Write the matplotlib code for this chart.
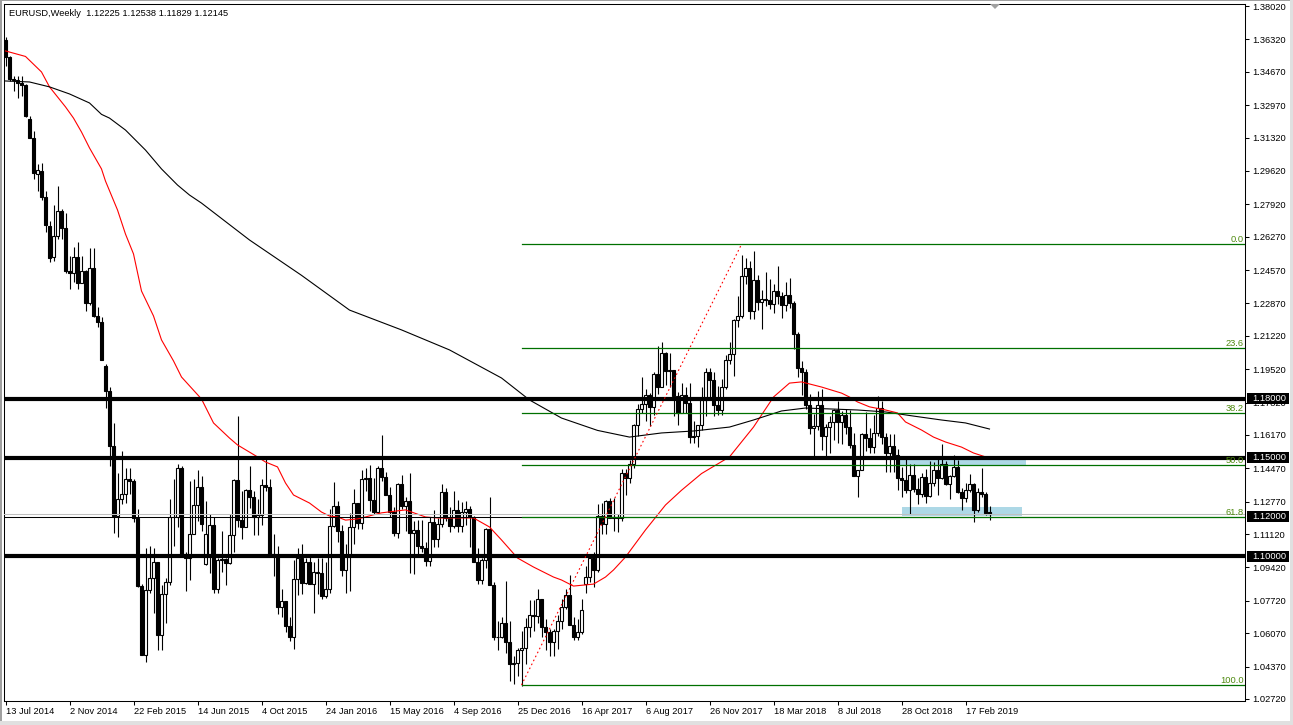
import numpy as np
import matplotlib
matplotlib.use("Agg")
import matplotlib.pyplot as plt
from matplotlib.patches import Rectangle, Polygon
from matplotlib.transforms import blended_transform_factory

plt.rcParams['font.family'] = ['Liberation Sans', 'DejaVu Sans']

# EURUSD weekly candles, bar 0 = week of 13 Jul 2014, last bar = week of 31 Mar 2019
opens = [
    # 2014
    1.3630, 1.3540, 1.3430, 1.3424, 1.3410, 1.3400, 1.3225, 1.3130, 1.2945, 1.2960, 1.2830, 1.2680, 1.2525,
    1.2630, 1.2760, 1.2670, 1.2450, 1.2440, 1.2525, 1.2390, 1.2450, 1.2290, 1.2465, 1.2225, 1.2190,
    # 2015
    1.1970, 1.1842, 1.1560, 1.1205, 1.1290, 1.1315, 1.1390, 1.1380, 1.1195, 1.0845, 1.0495, 1.0825, 1.0890,
    1.0970, 1.0600, 1.0805, 1.0870, 1.1200, 1.1200, 1.1450, 1.1010, 1.0990, 1.1110, 1.1260, 1.1350, 1.0960,
    1.1000, 1.1160, 1.0830, 1.0980, 1.0985, 1.0965, 1.1105, 1.1385, 1.1185, 1.1150, 1.1335, 1.1300, 1.1200,
    1.1210, 1.1360, 1.1350, 1.1010, 1.1005, 1.0740, 1.0770, 1.0645, 1.0590, 1.0885, 1.0990, 1.0865, 1.0970,
    # 2016
    1.0860, 1.0920, 1.0915, 1.0795, 1.0830, 1.1155, 1.1255, 1.1130, 1.0930, 1.1000, 1.1150, 1.1270, 1.1170,
    1.1390, 1.1400, 1.1285, 1.1225, 1.1450, 1.1405, 1.1310, 1.1225, 1.1115, 1.1365, 1.1255, 1.1280, 1.1115,
    1.1135, 1.1050, 1.1040, 1.0975, 1.1175, 1.1085, 1.1165, 1.1325, 1.1195, 1.1155, 1.1235, 1.1155, 1.1225,
    1.1240, 1.1200, 1.0970, 1.0880, 1.0980, 1.1140, 1.0850, 1.0590, 1.0590, 1.0660, 1.0560, 1.0450, 1.0455,
    # 2017
    1.0520, 1.0530, 1.0640, 1.0700, 1.0695, 1.0780, 1.0640, 1.0615, 1.0560, 1.0620, 1.0670, 1.0740, 1.0800,
    1.0650, 1.0590, 1.0615, 1.0860, 1.0895, 1.0990, 1.0930, 1.1205, 1.1165, 1.1280, 1.1195, 1.1200, 1.1195,
    1.1425, 1.1400, 1.1470, 1.1665, 1.1750, 1.1775, 1.1820, 1.1760, 1.1925, 1.1860, 1.2035, 1.1945, 1.1950,
    1.1815, 1.1730, 1.1820, 1.1780, 1.1605, 1.1610, 1.1665, 1.1795, 1.1935, 1.1895, 1.1770, 1.1745, 1.1860,
    # 2018
    1.2000, 1.2030, 1.2200, 1.2225, 1.2425, 1.2465, 1.2250, 1.2405, 1.2295, 1.2310, 1.2305, 1.2285, 1.2350,
    1.2325, 1.2280, 1.2330, 1.2290, 1.2130, 1.1960, 1.1940, 1.1770, 1.1650, 1.1660, 1.1770, 1.1610, 1.1655,
    1.1685, 1.1745, 1.1685, 1.1720, 1.1655, 1.1565, 1.1410, 1.1440, 1.1620, 1.1600, 1.1555, 1.1625, 1.1755,
    1.1605, 1.1525, 1.1560, 1.1515, 1.1400, 1.1385, 1.1335, 1.1415, 1.1340, 1.1315, 1.1405, 1.1305, 1.1370,
    # 2019
    1.1440, 1.1395, 1.1470, 1.1365, 1.1410, 1.1455, 1.1325, 1.1295, 1.1335, 1.1365, 1.1235, 1.1325, 1.1315,
    1.12225,
]
highs = [
    1.3645, 1.3545, 1.3444, 1.3444, 1.3446, 1.3405, 1.3240, 1.3166, 1.2995, 1.3002, 1.2860, 1.2706, 1.2790,
    1.2887, 1.2770, 1.2750, 1.2530, 1.2576, 1.2600, 1.2530, 1.2456, 1.2570, 1.2570, 1.2270, 1.2220,
    1.1980, 1.1860, 1.1680, 1.1423, 1.1534, 1.1450, 1.1450, 1.1390, 1.1240, 1.0860, 1.1040, 1.1050, 1.1040,
    1.0970, 1.0850, 1.0890, 1.1290, 1.1390, 1.1467, 1.1460, 1.1020, 1.1380, 1.1390, 1.1436, 1.1410, 1.1280,
    1.1215, 1.1200, 1.0990, 1.1130, 1.0990, 1.1215, 1.1390, 1.1714, 1.1330, 1.1340, 1.1460, 1.1330, 1.1290,
    1.1390, 1.1495, 1.1390, 1.1110, 1.1050, 1.0830, 1.0770, 1.0690, 1.0980, 1.1040, 1.1060, 1.0990, 1.0995,
    1.0970, 1.0990, 1.0990, 1.0970, 1.1240, 1.1375, 1.1280, 1.1160, 1.1060, 1.1220, 1.1340, 1.1270, 1.1440,
    1.1450, 1.1465, 1.1400, 1.1460, 1.1616, 1.1430, 1.1350, 1.1250, 1.1370, 1.1415, 1.1300, 1.1425, 1.1180,
    1.1185, 1.1185, 1.1070, 1.1200, 1.1235, 1.1195, 1.1365, 1.1345, 1.1250, 1.1330, 1.1285, 1.1275, 1.1280,
    1.1255, 1.1205, 1.1040, 1.0990, 1.1145, 1.1300, 1.0870, 1.0670, 1.0690, 1.0875, 1.0670, 1.0490, 1.0530,
    1.0620, 1.0685, 1.0775, 1.0775, 1.0830, 1.0780, 1.0680, 1.0630, 1.0630, 1.0700, 1.0780, 1.0830, 1.0905,
    1.0690, 1.0680, 1.0780, 1.0950, 1.0995, 1.1020, 1.1265, 1.1270, 1.1285, 1.1295, 1.1295, 1.1215, 1.1445,
    1.1445, 1.1490, 1.1675, 1.1775, 1.1910, 1.1850, 1.1830, 1.1940, 1.2070, 1.2090, 1.2040, 1.2035, 1.1950,
    1.1835, 1.1880, 1.1860, 1.1880, 1.1690, 1.1665, 1.1860, 1.1960, 1.1960, 1.1940, 1.1865, 1.1900, 1.2025,
    1.2090, 1.2205, 1.2325, 1.2535, 1.2520, 1.2505, 1.2555, 1.2430, 1.2355, 1.2445, 1.2410, 1.2385, 1.2475,
    1.2345, 1.2395, 1.2415, 1.2300, 1.2140, 1.1995, 1.1955, 1.1825, 1.1725, 1.1840, 1.1850, 1.1675, 1.1715,
    1.1750, 1.1790, 1.1740, 1.1750, 1.1745, 1.1625, 1.1440, 1.1625, 1.1735, 1.1650, 1.1720, 1.1815, 1.1790,
    1.1625, 1.1620, 1.1620, 1.1545, 1.1455, 1.1500, 1.1470, 1.1470, 1.1400, 1.1425, 1.1445, 1.1485, 1.1480,
    1.1500, 1.1570, 1.1485, 1.1415, 1.1515, 1.1490, 1.1345, 1.1370, 1.1420, 1.1370, 1.1345, 1.1450, 1.1325,
    1.12538,
]
lows = [
    1.3495, 1.3422, 1.3367, 1.3333, 1.3345, 1.3239, 1.3130, 1.2919, 1.2859, 1.2813, 1.2650, 1.2500, 1.2505,
    1.2614, 1.2615, 1.2440, 1.2358, 1.2398, 1.2360, 1.2390, 1.2246, 1.2280, 1.2220, 1.2165, 1.2000,
    1.1754, 1.1460, 1.1115, 1.1098, 1.1265, 1.1270, 1.1315, 1.1175, 1.0840, 1.0495, 1.0460, 1.0810, 1.0710,
    1.0520, 1.0520, 1.0660, 1.0850, 1.1050, 1.1150, 1.1010, 1.0820, 1.0880, 1.1110, 1.1180, 1.1130, 1.0955,
    1.0915, 1.0810, 1.0810, 1.0920, 1.0850, 1.0960, 1.1020, 1.1150, 1.1085, 1.1150, 1.1245, 1.1105, 1.1105,
    1.1160, 1.1330, 1.1010, 1.0900, 1.0705, 1.0690, 1.0615, 1.0565, 1.0525, 1.0800, 1.0805, 1.0860, 1.0855,
    1.0710, 1.0805, 1.0780, 1.0785, 1.0810, 1.1150, 1.1070, 1.0900, 1.0810, 1.0820, 1.1060, 1.1140, 1.1140,
    1.1330, 1.1230, 1.1215, 1.1220, 1.1380, 1.1310, 1.1200, 1.1100, 1.1090, 1.1240, 1.1130, 1.0912, 1.0910,
    1.1000, 1.1020, 1.0950, 1.0950, 1.1045, 1.1045, 1.1150, 1.1180, 1.1120, 1.1145, 1.1120, 1.1120, 1.1160,
    1.1045, 1.0970, 1.0860, 1.0860, 1.0940, 1.0850, 1.0570, 1.0520, 1.0580, 1.0505, 1.0365, 1.0350, 1.0390,
    1.0340, 1.0450, 1.0590, 1.0620, 1.0660, 1.0590, 1.0520, 1.0490, 1.0490, 1.0525, 1.0630, 1.0730, 1.0650,
    1.0570, 1.0570, 1.0605, 1.0810, 1.0870, 1.0840, 1.0920, 1.1110, 1.1110, 1.1195, 1.1130, 1.1120, 1.1180,
    1.1310, 1.1370, 1.1450, 1.1610, 1.1730, 1.1690, 1.1660, 1.1720, 1.1825, 1.1860, 1.1870, 1.1860, 1.1715,
    1.1670, 1.1730, 1.1730, 1.1575, 1.1575, 1.1555, 1.1640, 1.1715, 1.1810, 1.1715, 1.1720, 1.1720, 1.1850,
    1.1980, 1.1915, 1.2165, 1.2215, 1.2385, 1.2205, 1.2205, 1.2255, 1.2155, 1.2275, 1.2260, 1.2240, 1.2285,
    1.2215, 1.2250, 1.2265, 1.2055, 1.1910, 1.1820, 1.1750, 1.1620, 1.1510, 1.1640, 1.1540, 1.1510, 1.1525,
    1.1590, 1.1575, 1.1570, 1.1620, 1.1550, 1.1410, 1.1300, 1.1440, 1.1535, 1.1525, 1.1525, 1.1610, 1.1570,
    1.1430, 1.1430, 1.1430, 1.1335, 1.1300, 1.1320, 1.1215, 1.1325, 1.1265, 1.1300, 1.1270, 1.1300, 1.1355,
    1.1310, 1.1390, 1.1360, 1.1290, 1.1405, 1.1320, 1.1235, 1.1275, 1.1325, 1.1175, 1.1225, 1.1300, 1.1210,
    1.11829,
]
closes = [
    1.3540, 1.3430, 1.3427, 1.3410, 1.3400, 1.3241, 1.3130, 1.2950, 1.2965, 1.2829, 1.2685, 1.2520, 1.2630,
    1.2760, 1.2670, 1.2450, 1.2440, 1.2525, 1.2390, 1.2450, 1.2290, 1.2465, 1.2225, 1.2190, 1.2000,
    1.1842, 1.1560, 1.1205, 1.1290, 1.1315, 1.1390, 1.1380, 1.1195, 1.0845, 1.0495, 1.0825, 1.0890, 1.0970,
    1.0600, 1.0805, 1.0870, 1.1200, 1.1200, 1.1450, 1.1010, 1.0990, 1.1110, 1.1260, 1.1350, 1.1165, 1.1110,
    1.1160, 1.0830, 1.0980, 1.0985, 1.0965, 1.1105, 1.1385, 1.1185, 1.1150, 1.1335, 1.1300, 1.1200, 1.1210,
    1.1360, 1.1350, 1.1010, 1.1005, 1.0740, 1.0770, 1.0645, 1.0590, 1.0885, 1.0990, 1.0865, 1.0970, 1.0860,
    1.0920, 1.0915, 1.0795, 1.0830, 1.1155, 1.1255, 1.1130, 1.0930, 1.1000, 1.1150, 1.1270, 1.1170, 1.1390,
    1.1400, 1.1285, 1.1225, 1.1450, 1.1405, 1.1310, 1.1225, 1.1115, 1.1365, 1.1255, 1.1280, 1.1115, 1.1135,
    1.1050, 1.1040, 1.0975, 1.1175, 1.1085, 1.1165, 1.1325, 1.1195, 1.1155, 1.1235, 1.1155, 1.1225, 1.1240,
    1.1200, 1.0970, 1.0880, 1.0980, 1.1140, 1.0850, 1.0590, 1.0590, 1.0660, 1.0560, 1.0450, 1.0455, 1.0520,
    1.0530, 1.0640, 1.0700, 1.0695, 1.0780, 1.0640, 1.0615, 1.0560, 1.0620, 1.0670, 1.0740, 1.0800, 1.0650,
    1.0590, 1.0615, 1.0725, 1.0895, 1.0990, 1.0930, 1.1205, 1.1165, 1.1280, 1.1195, 1.1200, 1.1195, 1.1425,
    1.1400, 1.1470, 1.1665, 1.1750, 1.1775, 1.1820, 1.1760, 1.1925, 1.1860, 1.2035, 1.1945, 1.1950, 1.1815,
    1.1730, 1.1820, 1.1780, 1.1605, 1.1610, 1.1665, 1.1795, 1.1935, 1.1895, 1.1770, 1.1745, 1.1860, 1.2000,
    1.2030, 1.2200, 1.2225, 1.2425, 1.2465, 1.2250, 1.2405, 1.2295, 1.2310, 1.2305, 1.2285, 1.2350, 1.2325,
    1.2280, 1.2330, 1.2290, 1.2130, 1.1960, 1.1940, 1.1770, 1.1650, 1.1660, 1.1770, 1.1610, 1.1655, 1.1685,
    1.1745, 1.1685, 1.1720, 1.1655, 1.1565, 1.1410, 1.1440, 1.1620, 1.1600, 1.1555, 1.1625, 1.1755, 1.1605,
    1.1525, 1.1560, 1.1515, 1.1400, 1.1385, 1.1335, 1.1415, 1.1340, 1.1315, 1.1405, 1.1305, 1.1370, 1.1440,
    1.1395, 1.1470, 1.1365, 1.1410, 1.1455, 1.1325, 1.1295, 1.1335, 1.1365, 1.1235, 1.1325, 1.1315, 1.1220,
    1.12145,
]

# moving averages (bar index, price)
ma_red_idx = [0, 5, 9, 11, 15, 17, 19, 21, 24, 25, 28, 30, 32, 34, 37, 39, 42, 44, 49, 52,
              56, 58, 63, 65, 68, 70, 72, 76, 79, 81, 83, 85, 88, 90, 92, 94, 98, 100, 105, 108,
              114, 117, 121, 124, 128, 132, 137, 139, 142, 147, 150, 152, 155, 160, 165, 169, 174, 181, 187, 192,
              196, 199, 204, 209, 211, 213, 216, 220, 223, 225, 229, 232, 235, 239, 242, 245]
ma_red_val = [1.3573, 1.3545, 1.3466, 1.3390, 1.3288, 1.3231, 1.3160, 1.3079, 1.2972, 1.2910,
              1.2763, 1.2640, 1.2539, 1.2350, 1.2223, 1.2101, 1.1994, 1.1912, 1.1800, 1.1678,
              1.1601, 1.1566, 1.1505, 1.1479, 1.1454, 1.1372, 1.1311, 1.1270, 1.1224, 1.1204,
              1.1199, 1.1183, 1.1189, 1.1199, 1.1210, 1.1220, 1.1230, 1.1235, 1.1199, 1.1194,
              1.1194, 1.1194, 1.1148, 1.1082, 1.0990, 1.0944, 1.0893, 1.0878, 1.0847, 1.0857,
              1.0893, 1.0929, 1.0995, 1.1133, 1.1260, 1.1335, 1.1420, 1.1505, 1.1657, 1.1810,
              1.1881, 1.1887, 1.1861, 1.1830, 1.1810, 1.1785, 1.1760, 1.1744, 1.1729, 1.1683,
              1.1642, 1.1606, 1.1581, 1.1555, 1.1525, 1.1505]
ma_blk_idx = [0, 6, 11, 16, 21, 24, 26, 30, 35, 39, 43, 46, 49, 61, 74, 86, 99, 111, 124, 131,
              139, 148, 156, 164, 172, 181, 187, 194, 200, 213, 220, 227, 234, 240, 246]
ma_blk_val = [1.3420, 1.3415, 1.3390, 1.3354, 1.3308, 1.3250, 1.3231, 1.3170, 1.3068, 1.2972,
              1.2890, 1.2839, 1.2798, 1.2610, 1.2430, 1.2253, 1.2152, 1.2050, 1.1907, 1.1795,
              1.1703, 1.1640, 1.1606, 1.1627, 1.1637, 1.1657, 1.1693, 1.1739, 1.1754, 1.1744,
              1.1734, 1.1713, 1.1693, 1.1678, 1.1647]

price_ticks = [1.38020, 1.36320, 1.34670, 1.32970, 1.31320, 1.29620, 1.27920, 1.26270, 1.24570,
               1.22870, 1.21220, 1.19520, 1.17820, 1.16170, 1.14470, 1.12770, 1.11120, 1.09420,
               1.07720, 1.06070, 1.04370, 1.02720]
date_pos = [0, 16, 32, 48, 64, 80, 96, 112, 128, 144, 160, 176, 192, 208, 224, 240]
date_labels = ["13 Jul 2014", "2 Nov 2014", "22 Feb 2015", "14 Jun 2015", "4 Oct 2015", "24 Jan 2016",
               "15 May 2016", "4 Sep 2016", "25 Dec 2016", "16 Apr 2017", "6 Aug 2017", "26 Nov 2017",
               "18 Mar 2018", "8 Jul 2018", "28 Oct 2018", "17 Feb 2019"]

key_levels = [1.18, 1.15, 1.10]
level_112 = 1.12
bid = 1.12145

# fibonacci drawn from the Jan 2017 low to the top anchor
fib_low, fib_high = 1.0343, 1.2588
fib_start, fib_end = 129, 184
fib_levels = [0.0, 23.6, 38.2, 50.0, 61.8, 100.0]

W, H = 1293, 725
fig = plt.figure(figsize=(W / 100, H / 100), dpi=100)
fig.patch.set_facecolor('white')
ax = fig.add_axes([4 / W, (H - 701) / H, (1245 - 4) / W, (701 - 4) / H])
ax.set_xlim(-0.375, 309.875)
ax.set_ylim(1.02615, 1.38122)

fs = 6.7

# support / resistance zones
ax.add_patch(Rectangle((223, 1.1462), 32, 0.0050, facecolor='#add8e6', edgecolor='none', zorder=1))
ax.add_patch(Rectangle((224, 1.1205), 30, 0.0045, facecolor='#add8e6', edgecolor='none', zorder=1))

# candles
x = np.arange(len(opens))
o, hi, lo, c = np.array(opens), np.array(highs), np.array(lows), np.array(closes)
up = c >= o
ax.vlines(x, lo, hi, color='black', linewidth=0.8, zorder=2)
ax.bar(x[up], (c - o)[up], bottom=o[up], width=0.55, color='white', edgecolor='black', linewidth=0.8, zorder=3)
ax.bar(x[~up], (o - c)[~up], bottom=c[~up], width=0.55, color='black', edgecolor='black', linewidth=0.8, zorder=3)

# moving averages
ax.plot(ma_red_idx, ma_red_val, color='red', linewidth=0.8, zorder=4)
ax.plot(ma_blk_idx, ma_blk_val, color='black', linewidth=0.8, zorder=4)

# horizontal lines
for lv in key_levels:
    ax.axhline(lv, color='black', linewidth=3, zorder=5)
ax.axhline(level_112, color='black', linewidth=0.75, zorder=5)
ax.axhline(bid, color='#c0c0c0', linewidth=0.75, zorder=5)

# fibonacci retracement
for lvl in fib_levels:
    p = fib_high - lvl / 100 * (fib_high - fib_low)
    ax.plot([fib_start, 310], [p, p], color='#007000', linewidth=0.9, zorder=6)
    ax.text(309.5, p, f'{lvl:.1f}', ha='right', va='bottom', fontsize=fs, color='#4f8a10', zorder=7)
ax.plot([fib_start, fib_end], [fib_low, fib_high], color='red', linewidth=0.8,
        linestyle=(0, (1.5, 2.5)), zorder=6)

# axes styling
for s in ax.spines.values():
    s.set_linewidth(0.75)
    s.set_color('black')
ax.yaxis.tick_right()
ax.set_yticks(price_ticks, [f'{v:.5f}' for v in price_ticks])
ax.set_xticks(date_pos, date_labels, ha='left')
ax.tick_params(axis='y', direction='out', length=3, width=0.75, pad=2, labelsize=fs)
ax.tick_params(axis='x', direction='out', length=3, width=0.75, pad=1.5, labelsize=fs)

# price boxes on the right axis
tr = blended_transform_factory(ax.transAxes, ax.transData)
box_l = (1247 - 4) / 1241
box_w = (1289 - 1247) / 1241
for lv in key_levels + [level_112]:
    ax.add_patch(Rectangle((box_l, lv - 0.0028), box_w, 0.0056, transform=tr, facecolor='black',
                           edgecolor='none', clip_on=False, zorder=10))
    ax.text((1252 - 4) / 1241, lv, f'{lv:.5f}', transform=tr, color='white', fontsize=fs,
            va='center', ha='left', clip_on=False, zorder=11)

# title
fig.text(9 / W, 1 - 13 / H, 'EURUSD,Weekly  1.12225 1.12538 1.11829 1.12145', fontsize=fs,
         va='center', ha='left')

# chart shift marker
fig.patches.append(Polygon([[990 / W, 1 - 4 / H], [1000 / W, 1 - 4 / H], [995 / W, 1 - 9 / H]],
                           closed=True, transform=fig.transFigure, facecolor='#a0a0a0', edgecolor='none'))

# window borders
fig.patches.append(Rectangle((0, 0), 2 / W, 1, transform=fig.transFigure, facecolor='#a0a0a0', edgecolor='none'))
fig.patches.append(Rectangle((0, 1 - 1 / H), 1, 1 / H, transform=fig.transFigure, facecolor='#a0a0a0', edgecolor='none'))
fig.patches.append(Rectangle((1 - 3 / W, 0), 3 / W, 1, transform=fig.transFigure, facecolor='#e0e0e0', edgecolor='none'))
fig.patches.append(Rectangle((0, 0), 1, 4 / H, transform=fig.transFigure, facecolor='#e0e0e0', edgecolor='none'))

fig.savefig('out.png', dpi=100)
